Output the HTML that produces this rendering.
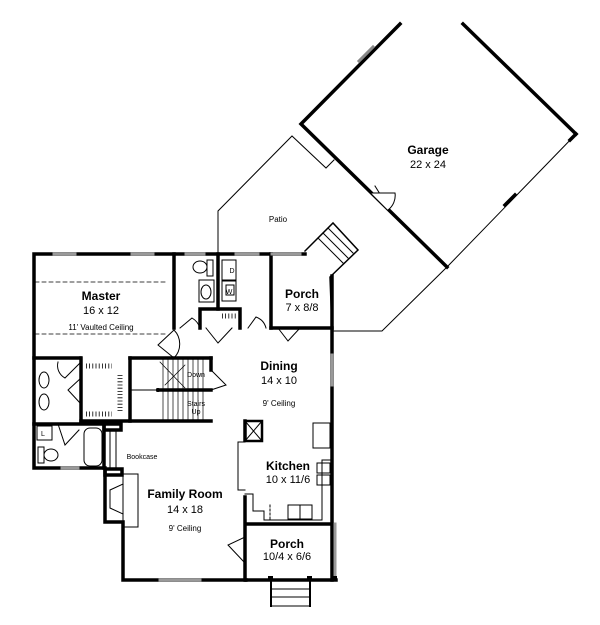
<!DOCTYPE html>
<html><head><meta charset="utf-8"><style>
html,body{margin:0;padding:0;background:#fff;width:600px;height:625px;overflow:hidden}
svg{display:block}
text{font-family:"Liberation Sans",sans-serif;fill:#000;text-anchor:middle}
.b{font-weight:bold;font-size:12px}
.d{font-size:11px}
.s{font-size:8px}
</style></head><body>
<svg width="600" height="625" viewBox="0 0 600 625" xmlns="http://www.w3.org/2000/svg">
<g fill="none" stroke="#000" stroke-linecap="square">
<!-- garage -->
<g stroke-width="3.5">
<polyline points="400,24 301,124 447,267"/>
<polyline points="463,24 576,134"/>
</g>
<line x1="576" y1="134" x2="447" y2="267" stroke-width="1"/>
<line x1="576" y1="134" x2="570" y2="140" stroke-width="3.5"/>
<line x1="515" y1="195" x2="505" y2="205" stroke-width="3.5"/>
<line x1="375" y1="186" x2="390" y2="210" stroke-width="1"/>
<path d="M371,193 L395,193 A18,18 0 0 1 388,210" stroke-width="1" fill="#fff"/>
<line x1="359" y1="61" x2="373" y2="47" stroke="#888" stroke-width="3"/>
<!-- patio -->
<polyline points="218,252 218,211 292,136 326,168 334,160" stroke-width="1"/>
<polyline points="447,267 382,331 333,331" stroke-width="1"/>
<!-- porch stairs side -->
<polyline points="305,251 333,223 358,250 330,277 332,330" stroke-width="1.5"/>
<line x1="318" y1="238" x2="343" y2="263" stroke-width="1"/>
<line x1="323" y1="233" x2="348" y2="258" stroke-width="1"/>
<line x1="328" y1="228" x2="353" y2="253" stroke-width="1"/>
<!-- main outer walls -->
<g stroke-width="3.5">
<polyline points="305,254 34,254 34,468 104,468"/>
<polyline points="105,468 105,522 123,522 123,580 246,580"/>
<polyline points="332,276 332,580"/>
<line x1="271" y1="254" x2="271" y2="328"/>
<line x1="271" y1="328" x2="332" y2="328"/>
<line x1="174" y1="254" x2="174" y2="328"/>
<line x1="218" y1="254" x2="218" y2="309"/>
<polyline points="200,328 200,309 240,309 240,328"/>
<line x1="34" y1="358" x2="80" y2="358"/>
<line x1="130" y1="358" x2="211" y2="358"/>
<line x1="81" y1="358" x2="81" y2="421"/>
<line x1="130" y1="358" x2="130" y2="421"/>
<line x1="81" y1="421" x2="211" y2="421"/>
<line x1="158" y1="390" x2="211" y2="390"/>
<line x1="211" y1="358" x2="211" y2="370"/>
<line x1="34" y1="424" x2="104" y2="424"/>
<line x1="104" y1="424" x2="104" y2="468"/>
<line x1="245" y1="421" x2="245" y2="440"/>
<line x1="245" y1="497" x2="245" y2="580"/>
<line x1="246" y1="524" x2="332" y2="524"/>
<line x1="246" y1="580" x2="336" y2="580"/>
<rect x="104" y="424" width="17" height="6"/>
<rect x="105" y="469" width="17" height="6"/>
</g>
<!-- windows -->
<g stroke="#999" stroke-width="3">
<line x1="54" y1="254" x2="75" y2="254"/><line x1="132" y1="254" x2="153" y2="254"/>
<line x1="186" y1="254" x2="204" y2="254"/><line x1="236" y1="254" x2="258" y2="254"/>
<line x1="272" y1="254" x2="300" y2="254"/>
<line x1="332" y1="355" x2="332" y2="385"/>
<line x1="160" y1="580" x2="200" y2="580"/>
<line x1="62" y1="468" x2="78" y2="468"/>
<line x1="335" y1="524" x2="335" y2="578"/>
</g>
<!-- master dashed -->
<line x1="35" y1="282" x2="168" y2="282" stroke-width="0.8" stroke-dasharray="4,3"/>
<line x1="35" y1="334" x2="168" y2="334" stroke-width="0.8" stroke-dasharray="4,3"/>
<!-- doors -->
<g stroke-width="1">
<path d="M174,330 L158,345 L174,358 A20,20 0 0 0 174,330"/>
<path d="M180,328 L192,318 A18,18 0 0 1 200,328"/>
<path d="M206,328 L218,343 L232,328"/>
<path d="M248,328 L256,317 A16,16 0 0 1 266,328"/>
<path d="M278,328 L288,341 L300,328"/>
<path d="M211,370 L226,385 L211,390"/>
<path d="M58,362 A14,14 0 0 0 65,378 L81,362"/>
<path d="M81,378 L68,390 L81,404"/>
<path d="M58,424 L65,445 L79,430"/>
<path d="M245,537 L228,545 L245,563"/>
</g>
<!-- bath fixtures -->
<g stroke-width="1">
<ellipse cx="44" cy="380" rx="5" ry="8"/><ellipse cx="44" cy="402" rx="5" ry="8"/>
<rect x="37" y="426" width="15" height="14"/>
<rect x="38" y="447" width="6" height="16"/><ellipse cx="51" cy="455" rx="7" ry="6"/>
<rect x="84" y="428" width="18" height="38" rx="6"/>
<ellipse cx="200" cy="267" rx="7" ry="6"/><rect x="207" y="260" width="6" height="16"/>
<rect x="199" y="280" width="15" height="22"/><ellipse cx="206" cy="292" rx="5" ry="7"/>
<rect x="222" y="260" width="14" height="20"/><rect x="222" y="281" width="14" height="20"/>
<rect x="226" y="285" width="8" height="10"/>
<!-- kitchen -->
<rect x="245" y="421" width="17" height="20" stroke-width="2.5"/>
<line x1="245" y1="421" x2="262" y2="441"/><line x1="262" y1="421" x2="245" y2="441"/>
<polyline points="245,442 238,442 238,490 245,490"/>
<polyline points="245,494 253,494 253,511 264,511 264,520 322,520 322,460 330,460"/>
<rect x="313" y="423" width="17" height="25"/>
<rect x="317" y="463" width="13" height="10"/><rect x="317" y="475" width="13" height="10"/>
<rect x="288" y="505" width="12" height="14"/><rect x="300" y="505" width="12" height="14"/>
<line x1="270" y1="505" x2="270" y2="520" stroke-dasharray="2,2"/>
<!-- fireplace -->
<rect x="123" y="474" width="15" height="53"/>
<polyline points="123,484 110,490 110,508 123,514"/>
<!-- bookcase -->
<line x1="110" y1="430" x2="110" y2="470"/><line x1="116" y1="430" x2="116" y2="470"/>
<!-- stairs -->
<line x1="130" y1="390" x2="158" y2="390"/><circle cx="158" cy="390" r="1.5"/>
</g>
<g stroke-width="0.7">
<line x1="163" y1="358" x2="163" y2="421"/><line x1="168" y1="358" x2="168" y2="421"/>
<line x1="173" y1="358" x2="173" y2="421"/><line x1="178" y1="358" x2="178" y2="421"/>
<line x1="183" y1="358" x2="183" y2="421"/><line x1="188" y1="358" x2="188" y2="421"/>
<line x1="193" y1="358" x2="193" y2="421"/><line x1="198" y1="358" x2="198" y2="421"/>
<line x1="203" y1="358" x2="203" y2="421"/>
<line x1="160" y1="362" x2="185" y2="388"/><line x1="165" y1="385" x2="185" y2="365"/>
</g>
<!-- closet hangers -->
<g stroke-width="5" stroke-dasharray="0.8,2.4" stroke-linecap="butt">
<line x1="86" y1="366" x2="112" y2="366"/>
<line x1="86" y1="414" x2="112" y2="414"/>
<line x1="120" y1="375" x2="120" y2="412"/>
<line x1="222" y1="316" x2="237" y2="316"/>
</g>
<!-- front steps -->
<g stroke-width="1">
<line x1="271" y1="580" x2="271" y2="606" stroke-width="2"/><line x1="310" y1="580" x2="310" y2="606" stroke-width="2"/>
<line x1="271" y1="589" x2="310" y2="589"/><line x1="271" y1="597" x2="310" y2="597"/><line x1="271" y1="606" x2="310" y2="606"/>
</g>
</g>
<g fill="#000"><rect x="268" y="576" width="5" height="5"/><rect x="307" y="576" width="5" height="5"/><rect x="332" y="576" width="5" height="5"/></g>
<text class="b" x="428" y="154">Garage</text><text class="d" x="428" y="168">22 x 24</text>
<text class="s" x="278" y="222">Patio</text>
<text class="b" x="302" y="298">Porch</text><text class="d" x="302" y="311">7 x 8/8</text>
<text class="b" x="101" y="300">Master</text><text class="d" x="101" y="314">16 x 12</text>
<text class="s" x="101" y="330">11' Vaulted Ceiling</text>
<text class="b" x="279" y="370">Dining</text><text class="d" x="279" y="384">14 x 10</text>
<text class="s" x="279" y="406">9' Ceiling</text>
<text class="s" x="196" y="377" style="font-size:7px">Down</text>
<text class="s" x="196" y="406" style="font-size:7px">Stairs</text><text class="s" x="196" y="414" style="font-size:7px">Up</text>
<text class="b" x="288" y="470">Kitchen</text><text class="d" x="288" y="483">10 x 11/6</text>
<text class="s" x="142" y="459" style="font-size:7px">Bookcase</text>
<text class="b" x="185" y="498">Family Room</text><text class="d" x="185" y="513">14 x 18</text>
<text class="s" x="185" y="531">9' Ceiling</text>
<text class="b" x="287" y="548">Porch</text><text class="d" x="287" y="560">10/4 x 6/6</text>
<text class="s" x="43" y="436" style="font-size:7px">L</text>
<text class="s" x="232" y="273" style="font-size:7px">D</text>
<text class="s" x="229" y="294" style="font-size:7px">W</text>
</svg>
</body></html>
